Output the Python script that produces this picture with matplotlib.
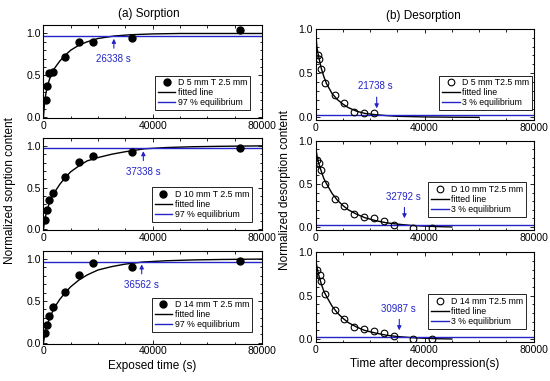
import numpy as np
import matplotlib
matplotlib.use("Agg")
import matplotlib.pyplot as plt
from matplotlib.ticker import MultipleLocator

plt.rcParams['font.family'] = ['Liberation Sans', 'DejaVu Sans']

azul = '#2424c8'

# ---- sorcion: puntos medidos (tiempo en s, fraccion normalizada)
sor_t = [
    [916, 1400, 2130, 3480, 7760, 12890, 18130, 32530, 72000],
    [660, 1280, 2010, 3480, 7770, 12890, 18130, 32530, 72000],
    [660, 1170, 2010, 3480, 7770, 12890, 18130, 32530, 72000],
]
sor_y = [
    [0.20, 0.37, 0.53, 0.54, 0.72, 0.90, 0.90, 0.94, 1.04],
    [0.11, 0.23, 0.35, 0.44, 0.63, 0.81, 0.88, 0.93, 0.98],
    [0.12, 0.21, 0.32, 0.43, 0.61, 0.81, 0.95, 0.91, 0.98],
]

# curvas ajustadas
sor_fit_t = [
    [0, 500, 1000, 2000, 3000, 4000, 6000, 8000, 10000, 13000, 16000, 20000, 26000, 32000, 40000, 50000, 60000, 80000],
    [0, 500, 1000, 2000, 3000, 4000, 6000, 8000, 10000, 13000, 16000, 20000, 25000, 30000, 37000, 45000, 55000, 65000, 80000],
    [0, 500, 1000, 2000, 3000, 4000, 6000, 8000, 10000, 13000, 16000, 20000, 25000, 30000, 36500, 45000, 55000, 65000, 80000],
]
sor_fit_y = [
    [0.0, 0.20, 0.30, 0.43, 0.52, 0.58, 0.67, 0.74, 0.80, 0.86, 0.90, 0.94, 0.97, 0.985, 0.995, 1.0, 1.0, 1.0],
    [0.0, 0.12, 0.19, 0.30, 0.38, 0.44, 0.54, 0.62, 0.69, 0.76, 0.82, 0.86, 0.90, 0.93, 0.965, 0.98, 0.99, 0.995, 1.0],
    [0.0, 0.10, 0.17, 0.27, 0.35, 0.42, 0.52, 0.60, 0.67, 0.75, 0.81, 0.87, 0.91, 0.94, 0.965, 0.98, 0.99, 0.995, 1.0],
]
sor_labels = ['D 5 mm T 2.5 mm', 'D 10 mm T 2.5 mm', 'D 14 mm T 2.5 mm']
sor_eq = 0.97
sor_tiempos = ['26338 s', '37338 s', '36562 s']
sor_flecha_t = [25800, 36600, 36000]

# ---- desorcion
des_t = [
    [960, 1210, 1950, 3420, 7100, 10500, 14200, 17900, 21400],
    [600, 1210, 1950, 3420, 7100, 10500, 14200, 17900, 21400, 25000, 28800, 35700, 42900],
    [600, 1580, 1950, 3420, 7100, 10500, 14200, 17900, 21400, 25000, 28800, 35700, 42900],
]
des_y = [
    [0.71, 0.66, 0.55, 0.39, 0.25, 0.16, 0.06, 0.05, 0.05],
    [0.78, 0.74, 0.66, 0.50, 0.33, 0.24, 0.15, 0.12, 0.10, 0.07, 0.02, -0.01, -0.01],
    [0.79, 0.74, 0.67, 0.52, 0.34, 0.23, 0.145, 0.12, 0.095, 0.07, 0.04, 0.0, 0.0],
]
des_fit_t = [
    [0, 500, 1000, 2000, 3000, 4000, 6000, 8000, 10000, 12000, 15000, 18000, 22000, 26000, 30000, 40000, 50000, 60000],
    [0, 500, 1000, 2000, 3000, 4000, 6000, 8000, 10000, 12000, 15000, 18000, 22000, 26000, 30000, 35000, 40000, 45000, 50000],
    [0, 500, 1000, 2000, 3000, 4000, 6000, 8000, 10000, 12000, 15000, 18000, 22000, 26000, 30000, 35000, 40000, 45000, 50000],
]
des_fit_y = [
    [0.95, 0.78, 0.70, 0.56, 0.46, 0.38, 0.27, 0.20, 0.15, 0.11, 0.07, 0.045, 0.03, 0.02, 0.012, 0.005, 0.002, 0.0],
    [0.92, 0.82, 0.75, 0.65, 0.56, 0.50, 0.39, 0.31, 0.25, 0.20, 0.15, 0.11, 0.075, 0.05, 0.035, 0.02, 0.012, 0.006, 0.002],
    [0.92, 0.82, 0.75, 0.64, 0.55, 0.49, 0.38, 0.30, 0.24, 0.19, 0.14, 0.10, 0.07, 0.045, 0.03, 0.018, 0.01, 0.005, 0.002],
]
des_labels = ['D 5 mm T2.5 mm', 'D 10 mm T2.5 mm', 'D 14 mm T2.5 mm']
des_eq = 0.03
des_tiempos = ['21738 s', '32792 s', '30987 s']
des_flecha_t = [22400, 32600, 30700]

fig = plt.figure(figsize=(5.5, 3.81), dpi=100)

pos_izq = [[0.079, 0.691, 0.397, 0.243], [0.079, 0.396, 0.397, 0.243], [0.079, 0.098, 0.397, 0.244]]
pos_der = [[0.574, 0.685, 0.396, 0.239], [0.574, 0.397, 0.396, 0.234], [0.574, 0.103, 0.396, 0.235]]
leg_izq = [(0.946, 0.083), (0.954, 0.09), (0.954, 0.127)]
leg_der = [(0.993, 0.11), (0.965, 0.148), (0.965, 0.148)]


def estilo(ax, ylim):
    ax.set_xlim(0, 80000)
    ax.set_ylim(*ylim)
    ax.set_xticks([0, 40000, 80000])
    ax.set_yticks([0.0, 0.5, 1.0])
    ax.xaxis.set_minor_locator(MultipleLocator(10000))
    ax.yaxis.set_minor_locator(MultipleLocator(0.1))
    ax.tick_params(which='both', direction='in', top=True, right=True, labelsize=7.5, pad=2, width=0.6)
    ax.tick_params(which='major', length=3)
    ax.tick_params(which='minor', length=1.8)
    for s in ax.spines.values():
        s.set_linewidth(0.8)


def leyenda(ax, ancla):
    leg = ax.legend(loc='lower right', bbox_to_anchor=ancla, fontsize=6.3, frameon=True,
                    fancybox=False, edgecolor='black', framealpha=1, borderpad=0.3,
                    handletextpad=0.3, handlelength=2.0, labelspacing=0.12,
                    borderaxespad=0, numpoints=1)
    leg.get_frame().set_linewidth(0.6)


for i in range(3):
    ax = fig.add_axes(pos_izq[i])
    estilo(ax, (-0.01, 1.1))
    ax.plot(sor_t[i], sor_y[i], 'o', color='black', ms=5, label=sor_labels[i], zorder=3)
    ax.plot(sor_fit_t[i], sor_fit_y[i], '-', color='black', lw=1.0, label='fitted line')
    ax.axhline(sor_eq, color=azul, lw=1.0, label='97 % equilibrium')
    ax.annotate('', xy=(sor_flecha_t[i], sor_eq), xytext=(sor_flecha_t[i], 0.79),
                arrowprops=dict(arrowstyle='-|>', color=azul, lw=0.8, mutation_scale=6))
    ax.text(sor_flecha_t[i], 0.69, sor_tiempos[i], color=azul, fontsize=7,
            ha='center', va='center')
    leyenda(ax, leg_izq[i])
    if i == 2:
        ax.set_xlabel('Exposed time (s)', fontsize=8.5, labelpad=2.5)

for i in range(3):
    ax = fig.add_axes(pos_der[i])
    estilo(ax, (-0.03, 1.0))
    ax.plot(des_t[i], des_y[i], 'o', mfc='none', mec='black', mew=0.8, ms=4.8,
            label=des_labels[i], zorder=3)
    ax.plot(des_fit_t[i], des_fit_y[i], '-', color='black', lw=1.0, label='fitted line')
    ax.axhline(des_eq, color=azul, lw=1.0, label='3 % equilibrium')
    ax.annotate('', xy=(des_flecha_t[i], 0.07), xytext=(des_flecha_t[i], 0.26),
                arrowprops=dict(arrowstyle='-|>', color=azul, lw=0.8, mutation_scale=6))
    ax.text(des_flecha_t[i] - 500, 0.35, des_tiempos[i], color=azul, fontsize=7,
            ha='center', va='center')
    leyenda(ax, leg_der[i])
    if i == 2:
        ax.set_xlabel('Time after decompression(s)', fontsize=8.5, labelpad=2.5)

fig.text(0.27, 0.963, '(a) Sorption', fontsize=8.5, ha='center', va='center')
fig.text(0.77, 0.958, '(b) Desorption', fontsize=8.5, ha='center', va='center')
fig.text(0.018, 0.5, 'Normalized sorption content', fontsize=8.5, rotation=90, ha='center', va='center')
fig.text(0.518, 0.5, 'Normalized desorption content', fontsize=8.5, rotation=90, ha='center', va='center')

fig.savefig('out.png', dpi=100)
